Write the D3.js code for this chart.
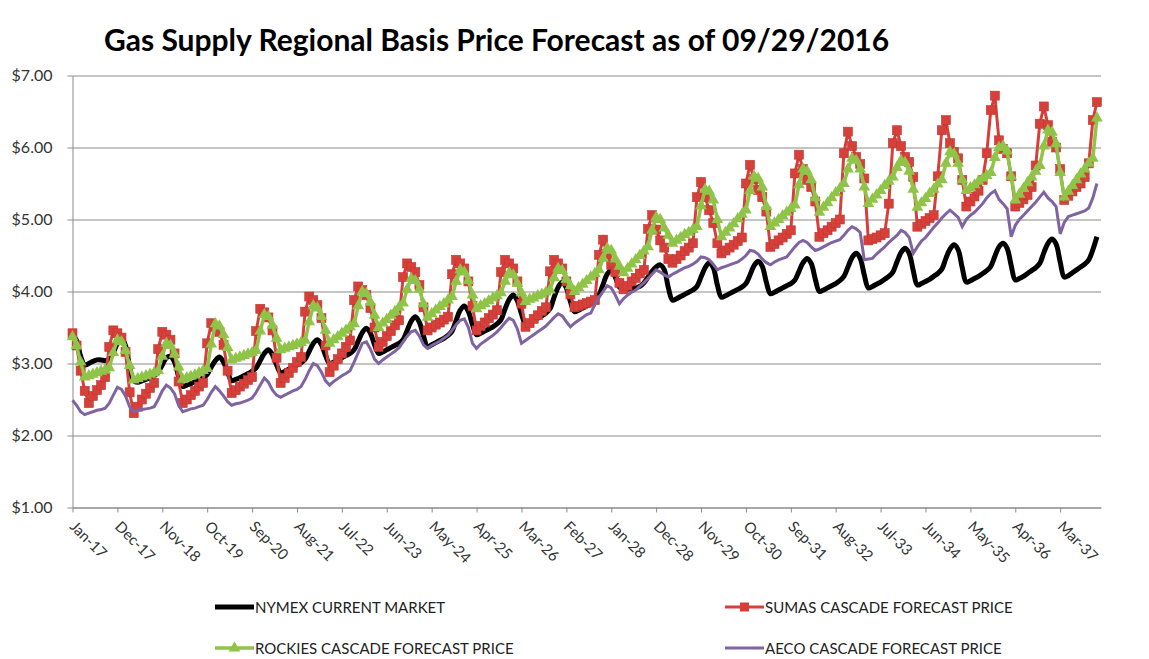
<!DOCTYPE html>
<html><head><meta charset="utf-8">
<script src="https://cdn.jsdelivr.net/npm/d3@7"></script>
<style>
body{margin:0;background:#fff;}
svg{display:block;font-family:Lato,'Open Sans',sans-serif;}
</style></head><body>
<svg id="chart" width="1149" height="659"></svg>
<script>
// ---------- DATA (monthly, Jan-17 .. Dec-37) ----------
const categories = d3.timeMonths(new Date(2017,0,1), new Date(2038,0,1)).map(d3.timeFormat("%b-%y"));
const xTickLabels = ["Jan-17","Dec-17","Nov-18","Oct-19","Sep-20","Aug-21","Jul-22","Jun-23","May-24","Apr-25","Mar-26","Feb-27","Jan-28","Dec-28","Nov-29","Oct-30","Sep-31","Aug-32","Jul-33","Jun-34","May-35","Apr-36","Mar-37"];
const yTicks = [1,2,3,4,5,6,7];
const seriesNames = ["NYMEX CURRENT MARKET","SUMAS CASCADE FORECAST PRICE","ROCKIES CASCADE FORECAST PRICE","AECO CASCADE FORECAST PRICE"];

const nymex = [
3.40,3.32,3.10,2.98,3.00,3.03,3.05,3.05,3.04,3.06,3.15,3.28,
3.35,3.25,2.95,2.76,2.74,2.76,2.78,2.80,2.83,2.88,2.98,3.08,
3.10,3.02,2.82,2.68,2.70,2.72,2.75,2.77,2.80,2.85,2.95,3.04,
3.09,3.02,2.88,2.76,2.78,2.80,2.83,2.86,2.89,2.94,3.04,3.14,
3.19,3.12,2.98,2.87,2.89,2.92,2.95,2.98,3.01,3.06,3.17,3.28,
3.33,3.26,3.11,3.00,3.02,3.05,3.08,3.11,3.14,3.19,3.31,3.43,
3.49,3.42,3.26,3.14,3.16,3.19,3.22,3.25,3.28,3.33,3.46,3.59,
3.65,3.57,3.38,3.23,3.26,3.29,3.32,3.35,3.39,3.45,3.60,3.74,
3.80,3.72,3.54,3.40,3.42,3.45,3.48,3.51,3.55,3.61,3.76,3.89,
3.95,3.87,3.69,3.55,3.57,3.60,3.63,3.66,3.70,3.76,3.92,4.06,
4.13,4.05,3.86,3.72,3.74,3.77,3.80,3.83,3.87,3.95,4.10,4.24,
4.30,4.20,4.06,4.03,4.03,4.04,4.05,4.07,4.12,4.20,4.28,4.34,
4.37,4.30,4.05,3.88,3.90,3.93,3.96,3.99,4.02,4.07,4.20,4.33,
4.40,4.33,4.09,3.92,3.94,3.97,4.00,4.03,4.06,4.11,4.23,4.36,
4.42,4.35,4.13,3.97,3.99,4.02,4.05,4.08,4.11,4.16,4.28,4.40,
4.46,4.39,4.17,4.00,4.02,4.05,4.08,4.11,4.15,4.21,4.34,4.47,
4.53,4.46,4.23,4.05,4.07,4.10,4.13,4.17,4.21,4.27,4.41,4.54,
4.60,4.53,4.29,4.09,4.11,4.14,4.17,4.21,4.25,4.31,4.46,4.59,
4.65,4.58,4.33,4.13,4.15,4.18,4.21,4.25,4.29,4.35,4.49,4.62,
4.67,4.60,4.36,4.16,4.18,4.21,4.25,4.29,4.33,4.39,4.54,4.67,
4.73,4.66,4.41,4.20,4.22,4.26,4.30,4.34,4.38,4.44,4.58,4.76];

const sumas = [
3.42,3.25,2.90,2.62,2.45,2.55,2.63,2.70,2.81,3.23,3.46,3.42,
3.36,3.16,2.60,2.31,2.40,2.50,2.58,2.66,2.73,3.20,3.44,3.40,
3.33,3.14,2.75,2.45,2.50,2.56,2.62,2.68,2.73,3.28,3.56,3.51,
3.44,3.26,2.90,2.59,2.63,2.68,2.72,2.77,2.81,3.45,3.76,3.71,
3.64,3.46,3.08,2.73,2.80,2.87,2.94,3.02,3.09,3.72,3.93,3.88,
3.81,3.63,3.25,2.88,2.97,3.06,3.14,3.23,3.32,3.88,4.07,4.02,
3.95,3.77,3.50,3.23,3.30,3.38,3.45,3.53,3.60,4.20,4.39,4.34,
4.27,4.09,3.78,3.46,3.50,3.54,3.57,3.61,3.65,4.24,4.44,4.39,
4.32,4.14,3.80,3.46,3.52,3.57,3.63,3.68,3.74,4.27,4.44,4.39,
4.32,4.14,3.83,3.51,3.56,3.62,3.67,3.73,3.78,4.28,4.44,4.39,
4.32,4.14,3.96,3.78,3.80,3.82,3.84,3.86,3.88,4.51,4.72,4.52,
4.37,4.27,4.12,4.03,4.08,4.14,4.19,4.25,4.30,4.87,5.06,4.86,
4.71,4.61,4.45,4.40,4.45,4.50,4.56,4.61,4.67,5.31,5.52,5.31,
5.13,4.95,4.67,4.53,4.57,4.61,4.65,4.70,4.75,5.50,5.76,5.56,
5.41,5.31,5.11,4.62,4.66,4.71,4.75,4.80,4.85,5.64,5.90,5.70,
5.55,5.45,5.25,4.76,4.81,4.85,4.90,4.95,5.00,5.92,6.22,6.02,
5.87,5.77,5.57,4.71,4.73,4.75,4.78,4.81,5.22,6.06,6.24,6.02,
5.87,5.80,5.59,4.90,4.94,4.98,5.02,5.06,5.60,6.24,6.38,6.06,
5.94,5.85,5.55,5.18,5.25,5.32,5.40,5.55,5.92,6.52,6.72,6.10,
5.98,5.92,5.60,5.18,5.23,5.28,5.34,5.45,5.75,6.33,6.57,6.31,
6.08,6.00,5.70,5.27,5.33,5.39,5.45,5.50,5.59,5.78,6.38,6.63];

const rockies = [
3.37,3.25,3.02,2.81,2.83,2.85,2.87,2.89,2.91,2.94,3.15,3.33,
3.30,3.18,2.97,2.77,2.79,2.81,2.83,2.85,2.87,2.90,3.10,3.28,
3.25,3.13,2.95,2.78,2.80,2.82,2.84,2.87,2.90,2.93,3.27,3.55,
3.52,3.40,3.22,3.05,3.07,3.09,3.11,3.13,3.15,3.18,3.45,3.68,
3.65,3.53,3.35,3.19,3.21,3.23,3.25,3.27,3.29,3.32,3.58,3.80,
3.77,3.65,3.46,3.28,3.33,3.37,3.42,3.46,3.51,3.55,3.80,4.00,
3.97,3.85,3.67,3.50,3.56,3.61,3.67,3.72,3.78,3.84,4.03,4.18,
4.15,4.03,3.83,3.64,3.69,3.74,3.79,3.83,3.88,3.93,4.14,4.30,
4.27,4.15,3.95,3.76,3.80,3.83,3.87,3.91,3.94,3.98,4.14,4.26,
4.23,4.11,3.98,3.86,3.89,3.91,3.94,3.96,3.99,4.02,4.19,4.32,
4.29,4.17,4.08,4.00,4.05,4.10,4.15,4.20,4.25,4.30,4.46,4.60,
4.57,4.45,4.35,4.26,4.32,4.38,4.44,4.50,4.56,4.62,4.85,5.03,
5.00,4.88,4.78,4.67,4.71,4.75,4.79,4.82,4.86,4.90,5.19,5.42,
5.39,5.27,5.00,4.76,4.82,4.88,4.94,5.01,5.07,5.13,5.40,5.60,
5.57,5.45,5.18,4.90,4.95,5.00,5.05,5.10,5.15,5.20,5.48,5.70,
5.67,5.55,5.30,5.10,5.17,5.23,5.30,5.37,5.43,5.50,5.70,5.85,
5.82,5.70,5.45,5.22,5.28,5.34,5.40,5.47,5.53,5.59,5.72,5.82,
5.79,5.67,5.42,5.17,5.23,5.29,5.36,5.42,5.49,5.55,5.78,5.94,
5.91,5.78,5.55,5.40,5.44,5.48,5.53,5.57,5.61,5.65,5.86,6.00,
6.02,5.95,5.60,5.27,5.35,5.43,5.51,5.59,5.67,5.75,6.02,6.24,
6.21,6.05,5.65,5.31,5.39,5.47,5.55,5.63,5.70,5.78,5.85,6.41];

const aeco = [
2.49,2.42,2.33,2.29,2.31,2.33,2.35,2.36,2.38,2.45,2.56,2.67,
2.64,2.55,2.40,2.33,2.35,2.36,2.37,2.38,2.40,2.50,2.62,2.70,
2.66,2.58,2.42,2.33,2.35,2.37,2.38,2.40,2.42,2.50,2.60,2.68,
2.62,2.55,2.47,2.42,2.44,2.45,2.47,2.49,2.52,2.60,2.70,2.80,
2.74,2.63,2.56,2.53,2.56,2.59,2.62,2.64,2.68,2.78,2.90,3.00,
2.97,2.88,2.76,2.70,2.75,2.79,2.83,2.86,2.90,3.02,3.15,3.28,
3.30,3.20,3.06,3.00,3.05,3.09,3.13,3.17,3.22,3.30,3.38,3.44,
3.46,3.38,3.26,3.21,3.25,3.28,3.31,3.35,3.39,3.46,3.54,3.60,
3.62,3.50,3.28,3.21,3.27,3.31,3.35,3.39,3.44,3.50,3.57,3.63,
3.60,3.48,3.28,3.32,3.36,3.40,3.44,3.48,3.52,3.58,3.64,3.69,
3.66,3.58,3.51,3.56,3.60,3.64,3.68,3.70,3.82,3.92,4.00,4.08,
4.05,3.95,3.83,3.90,3.95,3.99,4.02,4.07,4.12,4.18,4.24,4.30,
4.27,4.23,4.20,4.24,4.27,4.30,4.33,4.35,4.38,4.42,4.48,4.47,
4.44,4.38,4.30,4.33,4.35,4.37,4.39,4.41,4.45,4.50,4.57,4.56,
4.52,4.45,4.40,4.37,4.41,4.44,4.46,4.48,4.55,4.62,4.68,4.71,
4.68,4.62,4.57,4.59,4.62,4.65,4.68,4.70,4.72,4.78,4.85,4.90,
4.87,4.82,4.44,4.45,4.46,4.52,4.57,4.62,4.68,4.73,4.78,4.85,
4.82,4.75,4.53,4.62,4.70,4.75,4.82,4.89,4.95,5.02,5.08,5.13,
5.08,5.03,4.90,5.00,5.06,5.10,5.16,5.22,5.30,5.36,5.40,5.28,
5.22,5.15,4.76,4.92,5.00,5.06,5.12,5.18,5.24,5.31,5.38,5.30,
5.25,5.18,4.80,4.96,5.04,5.06,5.08,5.10,5.12,5.16,5.30,5.50];

(function(){
const svg = d3.select("#chart");
const pL = 72.5, pR = 1101, pT = 75.5, pB = 507.5;
const x = d3.scaleLinear().domain([0, categories.length]).range([pL, pR]);
const y = d3.scaleLinear().domain([1, 7]).range([pB, pT]);
const gridColor = "#8a8a8a";
const textColor = "#333";

svg.append("rect").attr("width",1149).attr("height",659).attr("fill","#fff");

svg.append("text").attr("x",104).attr("y",51)
  .attr("font-size",30).attr("font-weight","bold").attr("fill","#000")
  .text("Gas Supply Regional Basis Price Forecast as of 09/29/2016");

svg.append("g").attr("transform",`translate(${pL},0)`)
  .call(d3.axisLeft(y).tickValues(yTicks).tickSize(-(pR-pL)).tickFormat(""))
  .call(g=>g.select(".domain").remove())
  .selectAll("line").attr("stroke",gridColor).attr("stroke-width",1);

const yAx = svg.append("g").attr("transform",`translate(${pL},0)`)
  .call(d3.axisLeft(y).tickValues(yTicks).tickSize(5).tickSizeOuter(0).tickPadding(15).tickFormat(d3.format("$.2f")));
yAx.select(".domain").attr("stroke",gridColor);
yAx.selectAll("line").attr("stroke",gridColor);
yAx.selectAll("text").attr("font-size",16).attr("fill",textColor).attr("font-family","Lato, sans-serif");

const tickIdx = xTickLabels.map(l => categories.indexOf(l));
const xAx = svg.append("g").attr("transform",`translate(0,${pB})`)
  .call(d3.axisBottom(x).tickValues(tickIdx).tickSize(5).tickSizeOuter(0).tickFormat(i => categories[i]));
xAx.select(".domain").attr("stroke",gridColor);
xAx.selectAll("line").attr("stroke",gridColor);
xAx.selectAll("text").attr("x",0).attr("y",0).attr("dy",0)
  .attr("transform","translate(-4,20) rotate(45)")
  .attr("text-anchor","start").attr("font-size",15).attr("fill",textColor).attr("font-family","Lato, sans-serif");

const colors = {nymex:"#000000", sumas:"#d6403b", rockies:"#8fc449", aeco:"#8064a2"};
const lineGen = d3.line().x((d,i)=>x(i)).y(d=>y(d));
const smooth = d3.line().x((d,i)=>x(i)).y(d=>y(d)).curve(d3.curveCatmullRom.alpha(0.5));

const plot = svg.append("g");
plot.append("path").datum(nymex).attr("d",smooth).attr("fill","none")
  .attr("stroke",colors.nymex).attr("stroke-width",5).attr("stroke-linejoin","round");

plot.append("path").datum(sumas).attr("d",lineGen).attr("fill","none")
  .attr("stroke",colors.sumas).attr("stroke-width",3);
plot.append("g").selectAll("rect").data(sumas).join("rect")
  .attr("x",(d,i)=>x(i)-4.5).attr("y",d=>y(d)-4.5).attr("width",9).attr("height",9)
  .attr("fill",colors.sumas).attr("stroke","#c4352f").attr("stroke-width",0.6);

plot.append("path").datum(rockies).attr("d",lineGen).attr("fill","none")
  .attr("stroke",colors.rockies).attr("stroke-width",3.5);
const tri = d3.symbol().type(d3.symbolTriangle).size(60);
plot.append("g").selectAll("path").data(rockies).join("path")
  .attr("d",tri).attr("transform",(d,i)=>`translate(${x(i)},${y(d)})`)
  .attr("fill",colors.rockies);

plot.append("path").datum(aeco).attr("d",lineGen).attr("fill","none")
  .attr("stroke",colors.aeco).attr("stroke-width",3);

const legendItems = [
  {name:seriesNames[0], color:colors.nymex, w:5, marker:null, lx:215, ly:607},
  {name:seriesNames[1], color:colors.sumas, w:3, marker:"square", lx:725, ly:607},
  {name:seriesNames[2], color:colors.rockies, w:3.5, marker:"tri", lx:215, ly:648},
  {name:seriesNames[3], color:colors.aeco, w:3, marker:null, lx:725, ly:648}
];
const lg = svg.append("g");
legendItems.forEach(it=>{
  const g = lg.append("g").attr("transform",`translate(${it.lx},${it.ly})`);
  g.append("line").attr("x1",0).attr("x2",39).attr("y1",0).attr("y2",0)
    .attr("stroke",it.color).attr("stroke-width",it.w);
  if(it.marker==="square") g.append("rect").attr("x",15).attr("y",-4.5).attr("width",9).attr("height",9).attr("fill",it.color);
  if(it.marker==="tri") g.append("path").attr("d",tri).attr("transform","translate(19.5,0)").attr("fill",it.color);
  g.append("text").attr("x",40).attr("y",5.5).attr("font-size",15).attr("fill","#222").text(it.name);
});
})();
</script>
</body></html>
